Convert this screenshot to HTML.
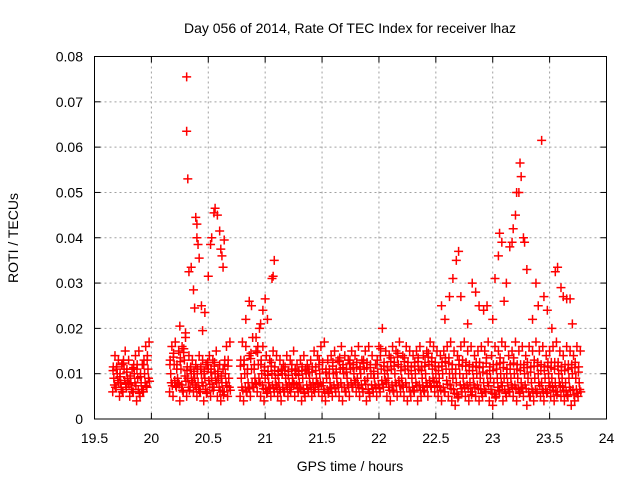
<!DOCTYPE html>
<html><head><meta charset="utf-8"><style>
html,body{margin:0;padding:0;background:#fff;width:640px;height:480px;overflow:hidden}
svg{display:block;font-family:"Liberation Sans",sans-serif}
</style></head><body>
<svg id="chart" width="640" height="480" viewBox="0 0 640 480">
<text x="350" y="33" font-size="14" text-anchor="middle" fill="#000">Day 056 of 2014, Rate Of TEC Index for receiver lhaz</text>
<text x="350" y="471" font-size="14" text-anchor="middle" fill="#000">GPS time / hours</text>
<text x="0" y="0" font-size="14" text-anchor="middle" fill="#000" transform="translate(18,238) rotate(-90)">ROTI / TECUs</text>
<g id="grid"></g>
<g id="marks"></g>
<rect x="94.5" y="56.5" width="512" height="362.5" fill="none" stroke="#000" stroke-width="1"/>
<g id="ticks"></g>
</svg>
<script>
// tick labels
const xTicks = [19.5, 20, 20.5, 21, 21.5, 22, 22.5, 23, 23.5, 24];
const xTickLabels = ["19.5","20","20.5","21","21.5","22","22.5","23","23.5","24"];
const yTicks = [0, 0.01, 0.02, 0.03, 0.04, 0.05, 0.06, 0.07, 0.08];
const yTickLabels = ["0","0.01","0.02","0.03","0.04","0.05","0.06","0.07","0.08"];
// data segments: start times (hours), sampling step 0.03 h; values in milli-TECU/min
const segStarts = [19.66, 20.16, 20.78];
const segStep = 0.03;
const lowA = [6,7,5,6,7,5,6,4,5,6,7];
const midA = [9,10,8,11,9,8,10,9,8,10,11];
const highA = [14,13,12,15,13,11,14,15,12,16,17];
const lowB = [6,5,7,4,6,5,7,6,5,6,4,6,5,7,5,4,6,5];
const midB = [10,12,9,11,13,9,10,9,8,10,9,11,9,10,9,8,10,9];
const highB = [16,17,15,16,18,14,13,12,14,13,12,14,13,15,12,11,16,17];
const lowC = [5,4,6,5,7,6,5,4,6,5,6,5,4,6,5,7,5,6,4,5,6,5,7,6,5,4,6,5,6,5,4,6,5,7,6,5,6,4,5,6,5,6,7,5,4,6,5,6,5,4,5,6,4,5,6,5,7,6,5,4,6,5,4,3,5,6,5,4,6,5,4,5,6,4,3,5,6,4,5,6,5,4,6,5,3,5,4,6,5,4,6,5,4,6,5,4,5,3,4,5];
const midC = [9,10,8,11,9,12,10,9,8,10,9,8,10,9,8,9,10,8,9,10,9,8,9,10,8,9,8,10,9,11,10,9,11,10,9,10,11,9,10,9,10,11,10,9,11,10,12,9,11,10,9,10,11,9,10,12,11,10,9,10,11,10,9,8,10,9,10,8,9,10,9,8,10,9,8,9,10,9,8,9,10,9,8,10,9,8,9,10,8,9,10,9,8,10,9,8,9,10,9,8];
const highC = [17,16,14,18,15,20,16,14,13,15,14,13,12,14,13,15,12,13,14,12,13,15,14,16,17,13,14,15,13,16,14,13,15,14,16,13,15,16,14,12,16,20,15,14,16,15,17,14,16,15,14,15,16,14,15,17,16,15,14,15,16,17,15,14,16,17,15,16,14,15,16,15,17,14,16,15,17,16,14,15,17,15,16,14,16,15,17,15,16,14,15,16,17,15,14,16,15,14,16,15];
// isolated high points
const spikeTimes = [20.31,20.31,20.32,20.33,20.35,20.37,20.38,20.39,20.4,20.4,20.41,20.42,20.44,20.45,20.47,20.5,20.52,20.53,20.55,20.56,20.58,20.6,20.61,20.62,20.64,20.63,20.3,20.25,20.83,20.86,20.88,20.92,20.96,20.98,21.0,21.02,21.06,21.08,21.07,22.55,22.58,22.62,22.65,22.68,22.7,22.72,22.78,22.82,22.85,22.88,22.92,22.95,23.0,23.02,23.05,23.06,23.08,23.1,23.12,23.15,23.17,23.18,23.2,23.21,23.23,23.24,23.25,23.27,23.28,23.3,23.35,23.38,23.4,23.43,23.45,23.48,23.52,23.55,23.57,23.6,23.62,23.65,23.68,23.7];
const spikeValues = [75.5,63.5,53,32.5,33.5,28.5,24.5,44.5,43,40,38.5,35.5,25,19.5,23.5,31.5,38.5,40,45.5,46.5,45,41.5,37.5,36,39.5,33.5,19,20.5,22,26,25,18,21,24,26.5,22,31,35,31.5,25,22,27,31,35,37,27,21,30,28,25,24,25,22,31,36,41,39,26,30,38,39,42,45,50,50,56.5,53.5,40,39,33,22,30,25,61.5,27,24,20,32.5,33.5,29,27,26.5,26.5,21];

const X0=94.5, X1=606.5, Y0=419, Y1=56.5;
const xs = t => X0 + (t-19.5)/(24-19.5)*(X1-X0);
const ys = v => Y0 - v/0.08*(Y0-Y1);
const NS="http://www.w3.org/2000/svg";
const grid=document.getElementById('grid'), ticks=document.getElementById('ticks'), marks=document.getElementById('marks');
function mk(tag, attrs, parent){const e=document.createElementNS(NS,tag);for(const k in attrs)e.setAttribute(k,attrs[k]);parent.appendChild(e);return e;}
xTicks.forEach((t,i)=>{
  const x=xs(t);
  if(i>0&&i<xTicks.length-1){
    const g=mk('line',{x1:x,x2:x,y1:Y1,y2:Y0,stroke:'#a0a0a0','stroke-dasharray':'2,3'},grid);
    
    
  }
  mk('line',{x1:x,x2:x,y1:Y0,y2:Y0-6,stroke:'#000'},ticks);
  mk('line',{x1:x,x2:x,y1:Y1,y2:Y1+6,stroke:'#000'},ticks);
  const l=mk('text',{x:x,y:443,'font-size':14,'text-anchor':'middle',fill:'#000'},ticks);
  l.textContent=xTickLabels[i];
  
  
});
yTicks.forEach((v,i)=>{
  const y=ys(v);
  if(i>0&&i<yTicks.length-1){
    const g=mk('line',{x1:X0,x2:X1,y1:y,y2:y,stroke:'#a0a0a0','stroke-dasharray':'2,3'},grid);
    
    
  }
  mk('line',{x1:X0,x2:X0+6,y1:y,y2:y,stroke:'#000'},ticks);
  mk('line',{x1:X1,x2:X1-6,y1:y,y2:y,stroke:'#000'},ticks);
  const l=mk('text',{x:83,y:y+5,'font-size':14,'text-anchor':'end',fill:'#000'},ticks);
  l.textContent=yTickLabels[i];
  
  
});
function plus(t,vMilli){
  const x=xs(t), y=ys(vMilli/1000);
  const p=mk('path',{d:`M${x-4.5},${y}H${x+4.5}M${x},${y-4.5}V${y+4.5}`,stroke:'#ff0000','stroke-width':1.5,fill:'none'},marks);
  
  
}
const segs=[[lowA,midA,highA],[lowB,midB,highB],[lowC,midC,highC]];
segs.forEach((s,si)=>{
  s[0].forEach((_,i)=>{
    const t=segStarts[si]+segStep*i;
    plus(t,s[0][i]); plus(t+segStep/3,s[1][i]); plus(t+2*segStep/3,s[2][i]);
    plus(t+segStep/2,(s[0][i]+s[1][i])/2); plus(t+segStep/6,(s[1][i]+s[2][i])/2);
    plus(t+segStep*0.8,(s[0][i]*2+s[1][i])/3); plus(t+segStep*0.1,(s[1][i]*2+s[2][i])/3);
  });
});
spikeTimes.forEach((t,i)=>plus(t,spikeValues[i]));
</script>
</body></html>
